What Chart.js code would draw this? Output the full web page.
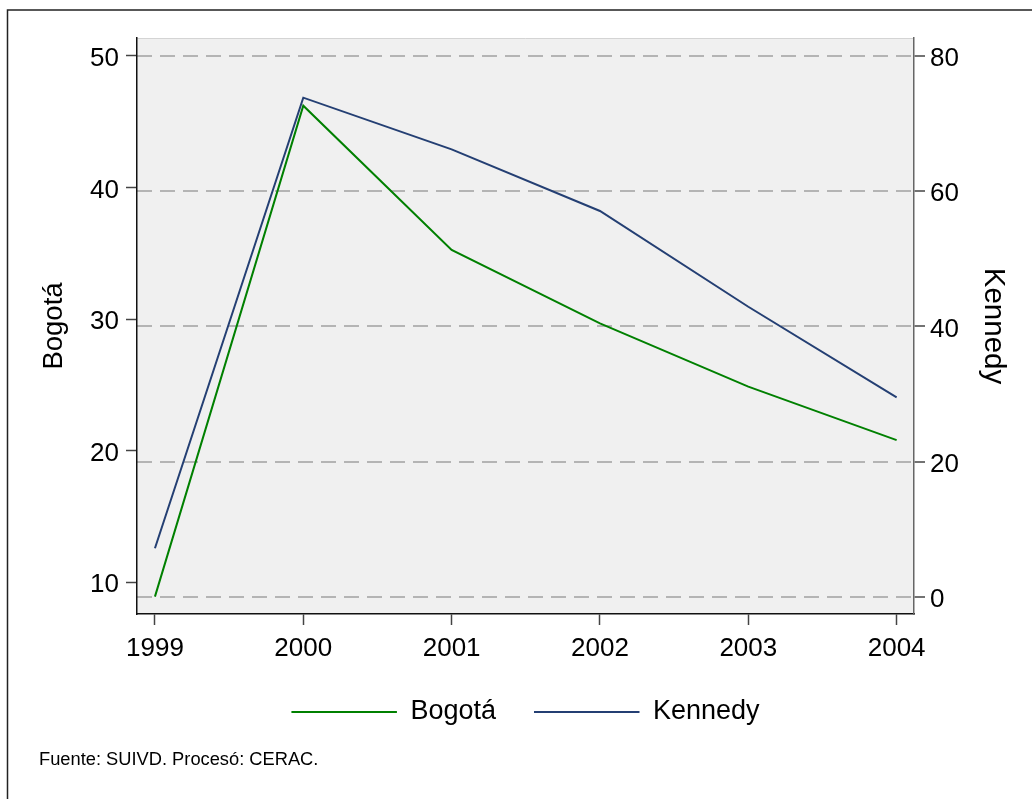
<!DOCTYPE html>
<html>
<head>
<meta charset="utf-8">
<title>Bogotá - Kennedy</title>
<script src="https://cdn.jsdelivr.net/npm/chart.js@4.4.0/dist/chart.umd.min.js"></script>
<style>
    body { margin: 0; background: #fff; }
    canvas { display: block; }
</style>
</head>
<body>
<canvas id="lineChart" width="1032" height="799"></canvas>
<script>
"use strict";

// values
let years = [1999, 2000, 2001, 2002, 2003, 2004];
let bogota = [8.91, 46.22, 35.26, 29.68, 24.87, 20.81];
let kennedy = [7.24, 73.80, 66.17, 57.06, 42.92, 29.54];
let leftTicks = [10, 20, 30, 40, 50];
let rightTicks = [0, 20, 40, 60, 80];
let seriesNames = ["Bogotá", "Kennedy"];
let note = "Fuente: SUIVD. Procesó: CERAC.";

const fontFamily = "'Liberation Sans', Arial, Helvetica, sans-serif";
Chart.defaults.font.family = fontFamily;
Chart.defaults.color = '#000';

// gray plot region, outer frame and the source note
const backdrop = {
    id: 'backdrop',
    beforeDraw(chart) {
        const ctx = chart.ctx, a = chart.chartArea;
        ctx.save();
        ctx.fillStyle = '#fff';
        ctx.fillRect(0, 0, chart.width, chart.height);
        ctx.fillStyle = '#f0f0f0';
        ctx.fillRect(a.left, a.top, a.right - a.left, a.bottom - a.top);
        ctx.strokeStyle = '#d4d4d4';
        ctx.lineWidth = 1;
        ctx.beginPath();
        ctx.moveTo(a.left, a.top + 0.5);
        ctx.lineTo(a.right, a.top + 0.5);
        ctx.stroke();
        ctx.strokeStyle = '#222';
        ctx.lineWidth = 1.5;
        ctx.beginPath();
        ctx.moveTo(7.5, chart.height + 5);
        ctx.lineTo(7.5, 10);
        ctx.lineTo(chart.width + 5, 10);
        ctx.stroke();
        ctx.restore();
    },
    afterDraw(chart) {
        const ctx = chart.ctx;
        ctx.save();
        ctx.font = "18.3px " + fontFamily;
        ctx.fillStyle = '#000';
        ctx.textBaseline = 'middle';
        ctx.fillText(note, 39, 760);
        ctx.restore();
    }
};

function pairs(values) {
    return years.map((yr, i) => ({ x: yr, y: values[i] }));
}

const data = {
    datasets: [{
        label: seriesNames[0],
        data: pairs(bogota),
        borderColor: '#008000',
        backgroundColor: '#008000',
        yAxisID: 'y',
        order: 2
    }, {
        label: seriesNames[1],
        data: pairs(kennedy),
        borderColor: '#243f73',
        backgroundColor: '#243f73',
        yAxisID: 'y1',
        order: 1
    }]
};

const dash = [15, 8];

const config = {
    type: 'line',
    data: data,
    options: {
        responsive: false,
        animation: false,
        events: [],
        elements: {
            line: { borderWidth: 2, tension: 0, fill: false },
            point: { radius: 0 }
        },
        layout: { padding: { top: 38, bottom: 63.5, left: 0, right: 0 } },
        scales: {
            x: {
                type: 'linear',
                min: 1998.879,
                max: 2004.117,
                afterBuildTicks: s => { s.ticks = years.map(v => ({ value: v })); },
                afterFit: s => { s.height = 46.5; },
                ticks: { font: { size: 26 }, padding: 8, maxRotation: 0, callback: v => String(v) },
                grid: { drawOnChartArea: false, drawTicks: true, tickLength: 11, tickColor: '#444', tickWidth: 1.5 },
                border: { color: '#111', width: 1.5 }
            },
            y: {
                position: 'left',
                min: 7.591,
                max: 51.368,
                afterBuildTicks: s => { s.ticks = leftTicks.map(v => ({ value: v })); },
                afterFit: s => { s.width = 137; },
                ticks: { font: { size: 26 }, padding: 7, labelOffset: 3 },
                grid: { drawOnChartArea: false, drawTicks: true, tickLength: 11, tickColor: '#444', tickWidth: 1.5 },
                border: { color: '#111', width: 1.5 },
                title: { display: true, text: seriesNames[0], font: { size: 27.5 }, padding: { top: 38, bottom: 0 } }
            },
            y1: {
                position: 'right',
                min: -2.467,
                max: 82.614,
                afterBuildTicks: s => { s.ticks = rightTicks.map(v => ({ value: v })); },
                afterFit: s => { s.width = 118; },
                ticks: { font: { size: 26 }, padding: 5, labelOffset: 3 },
                grid: {
                    color: '#b4b4b4', lineWidth: 2, borderDash: dash,
                    drawTicks: true, tickLength: 11, tickColor: '#444', tickWidth: 1.5
                },
                border: { color: '#666', width: 1.5, dash: dash },
                title: { display: true, text: seriesNames[1], font: { size: 29.5 }, padding: { top: 21, bottom: 0 } }
            }
        },
        plugins: {
            legend: {
                position: 'bottom',
                fullSize: false,
                labels: {
                    boxWidth: 105.5,
                    boxHeight: 2,
                    padding: 38,
                    font: { size: 27 },
                    generateLabels: chart => chart.data.datasets.map((ds, i) => ({
                        text: ds.label,
                        fillStyle: ds.borderColor,
                        strokeStyle: ds.borderColor,
                        lineWidth: 0,
                        hidden: false,
                        datasetIndex: i
                    }))
                }
            },
            tooltip: { enabled: false }
        }
    },
    plugins: [backdrop]
};

let myChart = new Chart(document.getElementById('lineChart'), config);
</script>
</body>
</html>
